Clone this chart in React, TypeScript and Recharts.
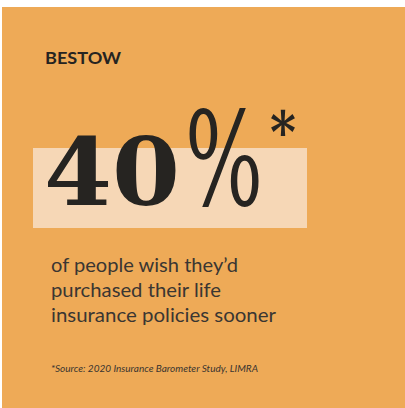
import { BarChart, Bar, XAxis, YAxis } from "recharts";

// the one statistic shown on the card
const categories = ["wished sooner"];
const percents = [40];
const brand = "BESTOW";
const captionLines = [
  "of people wish they\u2019d",
  "purchased their life",
  "insurance policies sooner",
];
const source = "*Source: 2020 Insurance Barometer Study, LIMRA";

const data = categories.map((name, i) => ({ name, value: percents[i] }));

const ORANGE = "#EEAA57";
const HIGHLIGHT = "#F6D7B6";
const INK = "#262421";
const captionWidths = [187, 170, 225];

// drawn as the bar's label so it sits on top of the highlight
const CardText = () => {
  const pct = String(percents[0]);
  return (
    <g>
      <text x={45} y={64} fontFamily="Lato, sans-serif" fontWeight={700}
        fontSize={17} fill={INK} textLength={76} lengthAdjust="spacingAndGlyphs">
        {brand}
      </text>
      <g fontFamily="DejaVu Serif, serif" fontWeight={700} fill={INK}>
        <text x={44} y={205} fontSize={94} textLength={136} lengthAdjust="spacingAndGlyphs">
          {pct}
        </text>
        <text x={185} y={205} fontSize={131} fontWeight={400} textLength={78} lengthAdjust="spacingAndGlyphs">
          %
        </text>
        <text x={270} y={152} fontSize={56} textLength={26} lengthAdjust="spacingAndGlyphs">
          *
        </text>
      </g>
      <g fontFamily="Lato, sans-serif" fontWeight={400} fontSize={20} fill="#3a3632">
        {captionLines.map((line, i) => (
          <text key={line} x={51} y={272 + i * 25} textLength={captionWidths[i]} lengthAdjust="spacingAndGlyphs">
            {line}
          </text>
        ))}
      </g>
      <text x={51} y={372} fontFamily="Lato, sans-serif" fontStyle="italic"
        fontSize={9.5} fill="#3a3530" textLength={207} lengthAdjust="spacingAndGlyphs">
        {source}
      </text>
    </g>
  );
};

export default function App() {
  return (
    <div style={{ position: "absolute", left: 0, top: 0, width: 405, height: 408, background: "#fff" }}>
      <div style={{ position: "absolute", left: 2, top: 7, width: 403, height: 401, background: ORANGE }} />
      <div style={{ position: "absolute", left: 0, top: 0 }}>
        <BarChart
          width={405}
          height={408}
          data={data}
          layout="vertical"
          margin={{ top: 148, right: 98, bottom: 180, left: 33 }}
          barCategoryGap={0}
        >
          <XAxis type="number" domain={[0, percents[0]]} hide />
          <YAxis type="category" dataKey="name" hide />
          <Bar dataKey="value" fill={HIGHLIGHT} isAnimationActive={false} label={() => <CardText />} />
        </BarChart>
      </div>
    </div>
  );
}
